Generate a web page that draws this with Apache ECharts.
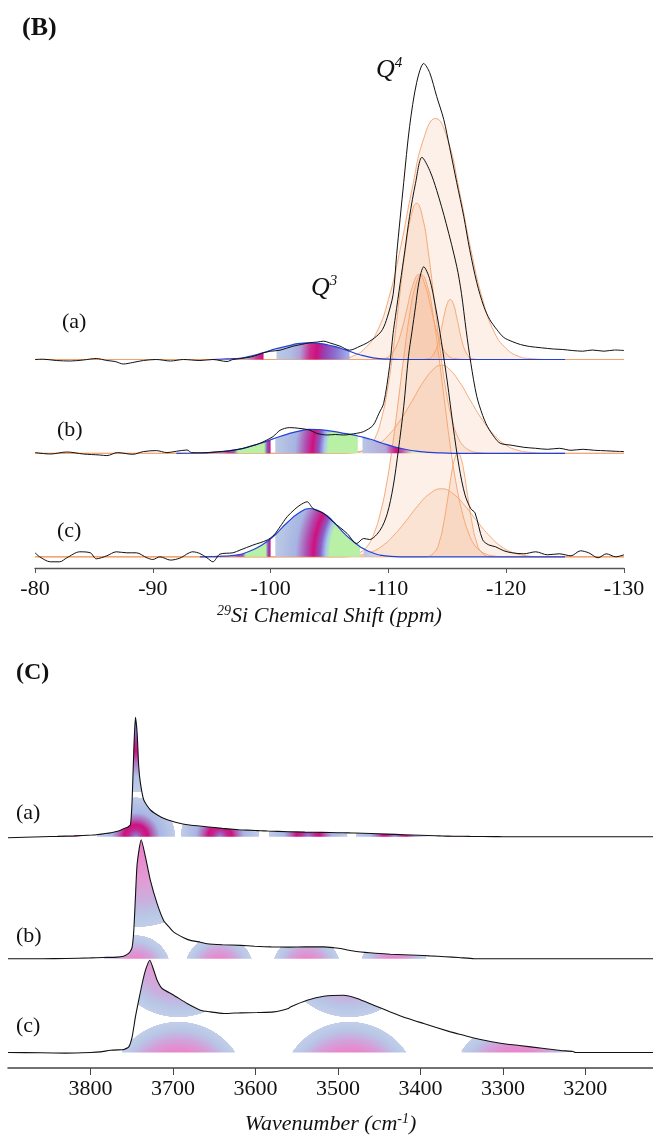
<!DOCTYPE html>
<html>
<head>
<meta charset="utf-8">
<script src="https://cdn.jsdelivr.net/npm/echarts@6/dist/echarts.min.js"></script>
<style>
  html, body { margin: 0; padding: 0; background: #fff; }
  #chart { width: 653px; height: 1137px; }
</style>
</head>
<body>
<div id="chart"></div>
<script>
// ---------- panel B : 29Si NMR ----------
var ppmTicks = [-80, -90, -100, -110, -120, -130];
var nmrLabels = ['(a)', '(b)', '(c)'];

// experimental spectra [ppm, intensity]
var nmrExpA = [[-80,0],[-80.7,0.3],[-81.8,-1],[-83,-1.5],[-84.1,-0.5],[-85.2,1],[-86.1,-1],[-86.8,-2],[-87.5,-4.5],[-88.3,-3],[-89.2,-1],[-90.3,0],[-91.5,-1.5],[-92.6,0],[-94,-1],[-95.1,0],[-96.3,-2],[-96.8,0],[-97.5,1],[-98.3,2.5],[-99,5],[-99.4,6.7],[-100,8.3],[-100.8,9.3],[-101.9,13.3],[-102.6,15],[-103.3,16.7],[-104,17.5],[-104.5,18.3],[-105,16.7],[-105.9,13.3],[-106.7,9.3],[-107.6,13.3],[-108.2,16.7],[-109,23.3],[-109.5,30],[-109.9,42],[-110.4,65],[-110.7,105],[-111.3,177],[-111.8,233],[-112.4,277],[-113,296],[-113.5,287],[-114.1,263],[-114.7,240],[-115.2,212],[-115.8,177],[-116.4,143],[-116.9,110],[-117.5,77],[-118.1,53],[-118.6,40],[-119.2,30],[-119.8,22],[-120.5,18],[-121.2,15],[-122,13],[-123,11.7],[-124,10.5],[-124.8,10],[-125.6,9],[-126.5,8.3],[-127.3,9.5],[-128.3,8.3],[-129.2,9.5],[-130,9]];
var nmrExpB = [[-80,0.7],[-81.3,-0.7],[-82.7,1.3],[-84.1,-0.7],[-85.5,-1.7],[-86.1,-2.3],[-87,0.7],[-88.3,-1],[-89.2,1.7],[-90.3,2.7],[-91.2,0.7],[-92,2],[-92.9,3.3],[-93.3,0.7],[-94.1,0.5],[-95.5,1.5],[-96.5,2.5],[-97.5,4.5],[-98.3,7],[-99.1,10],[-100.2,16.7],[-100.8,23],[-101.6,25.7],[-102.4,25],[-103.3,23.3],[-103.9,20],[-104.8,18.3],[-105.5,18.8],[-106.2,18.3],[-107.3,20],[-107.9,21.7],[-108.7,28],[-109.2,40],[-109.6,50],[-110.1,87],[-110.4,120],[-110.6,137],[-111,170],[-111.4,203],[-111.8,237],[-112.3,270],[-112.85,296],[-113.5,283],[-114.1,263],[-114.9,230],[-115.8,187],[-116.2,160],[-116.6,123],[-117,90],[-117.5,57],[-118,38],[-118.4,27],[-119,16],[-119.5,10],[-120.5,8],[-121.5,6],[-122.5,5],[-123.5,4],[-124.5,5],[-125.5,3],[-126.5,4],[-127.5,3],[-128.5,2.5],[-129.3,2],[-130,1.7]];
var nmrExpC = [[-80,4],[-80.4,0],[-81.3,-5],[-82.1,-5],[-82.7,-1],[-83.8,5],[-84.7,4],[-85.2,-2],[-86.1,1],[-86.9,5],[-87.8,4],[-88.6,4],[-89.5,-1],[-90,-2.7],[-90.6,0],[-91.5,-3.3],[-92.3,-1.3],[-93.4,5],[-94,3.3],[-94.6,-1],[-95.1,-5],[-95.7,2.7],[-96.8,4],[-97.4,6.7],[-98.5,11.7],[-99.7,16.7],[-100.3,22],[-100.8,30],[-101.4,40],[-102,47],[-102.5,51.7],[-103.1,55],[-103.6,48.3],[-104.5,43.3],[-105.3,35],[-106.5,23.3],[-107.3,13.3],[-107.9,18.3],[-108.4,17.3],[-109.3,26.7],[-109.9,43],[-110.4,70],[-110.85,107],[-111.3,150],[-111.7,200],[-112,225],[-112.3,250],[-112.6,275],[-113,290],[-113.5,278],[-114,250],[-114.5,215],[-115,175],[-115.5,130],[-116,90],[-116.5,62],[-117,48],[-117.35,44],[-118,17],[-118.5,12],[-119.1,10],[-119.8,6],[-120.5,4],[-121.5,3],[-122.5,5],[-123.5,2],[-124.5,3],[-125.5,1],[-126.3,6],[-127,4],[-127.8,-1],[-128.5,3],[-129.3,0],[-130,2]];

// fitted Q4 components
var q4A1 = [[-80,0],[-104,0],[-106,1],[-107,3.4],[-108,11],[-109,27],[-110,60],[-111,110],[-112,170],[-113,221],[-114,241],[-115,221],[-116,170],[-117,110],[-118,60],[-119,27],[-120,11],[-121,3.4],[-122,1],[-124,0],[-130,0]];
var q4A2 = [[-80,0],[-108,0],[-109.6,1],[-110.1,3.7],[-110.6,11.5],[-111.1,28],[-111.6,52],[-112.1,75],[-112.6,85],[-113.1,75],[-113.6,52],[-114.1,28],[-114.6,11.5],[-115.1,3.7],[-115.6,1],[-117,0],[-130,0]];
var q4A3 = [[-80,0],[-112.5,0],[-113.5,1],[-113.75,4],[-114,9],[-114.25,18],[-114.5,31],[-114.75,45],[-115,56],[-115.25,60],[-115.5,56],[-115.75,45],[-116,31],[-116.25,18],[-116.5,9],[-116.75,4],[-117,1],[-118,0],[-130,0]];
var q4B1 = [[-80,0],[-106,0],[-107.4,1],[-107.9,3],[-108.4,7],[-108.9,16],[-109.4,34],[-109.9,62],[-110.4,103],[-110.9,152],[-111.4,200],[-111.9,236],[-112.4,250],[-112.9,236],[-113.4,200],[-113.9,152],[-114.4,103],[-114.9,62],[-115.4,34],[-115.9,16],[-116.4,7],[-116.9,3],[-117.4,1],[-119,0],[-130,0]];
var q4B2 = [[-80,0],[-106,0],[-107,1],[-108,3],[-109,8],[-110,18],[-111,33],[-112,52],[-113,72],[-114,86],[-114.5,88],[-115,86],[-116,72],[-117,52],[-118,33],[-119,18],[-120,8],[-121,3],[-122,1],[-123.5,0],[-130,0]];
var q4C1 = [[-80,0],[-106,0],[-106.8,1],[-107.3,2.6],[-107.8,6],[-108.3,12],[-108.8,24],[-109.3,43],[-109.8,70],[-110.3,107],[-110.8,152],[-111.3,199],[-111.8,242],[-112.3,271],[-112.8,282],[-113.3,271],[-113.8,242],[-114.3,199],[-114.8,152],[-115.3,107],[-115.8,70],[-116.3,43],[-116.8,24],[-117.3,12],[-117.8,6],[-118.3,2.6],[-118.8,1],[-120,0],[-130,0]];
var q4C2 = [[-80,0],[-106,0],[-107.5,1.5],[-108.5,4.5],[-109.5,11],[-110.5,22],[-111.5,36],[-112.5,51],[-113.5,63],[-114.5,68],[-115.5,63],[-116.5,51],[-117.5,36],[-118.5,22],[-119.5,11],[-120.5,4.5],[-121.5,1.5],[-123,0],[-130,0]];
var q4C3 = [[-80,0],[-113,0],[-113.9,4.6],[-114.4,18],[-114.65,31],[-114.9,48],[-115.15,67],[-115.4,86],[-115.65,99],[-115.9,104],[-116.15,99],[-116.4,86],[-116.65,67],[-116.9,48],[-117.15,31],[-117.4,18],[-117.9,4.6],[-118.8,0],[-130,0]];

// Q3 envelopes and the ranges of their coloured pieces
var q3EnvA = [[-95,0],[-96,0.5],[-96.5,0.7],[-97.5,1.5],[-98.5,4],[-99.4,7],[-100.5,10.8],[-101.4,13.3],[-102.3,15.8],[-103.3,16.7],[-104.3,15.8],[-105.3,13.3],[-106,11],[-106.7,8.3],[-107.5,5],[-108.7,1.7],[-110,0.3],[-111,0],[-125,0]];
var q3EnvB = [[-92,0],[-94,0.3],[-95.4,1.2],[-96.5,2.5],[-97.1,3.6],[-98,6],[-99,9.5],[-100,13.5],[-100.4,15.3],[-101.5,19.5],[-102.5,22.5],[-103.3,24],[-104,23.8],[-105,22.5],[-106,20.5],[-107,18.5],[-107.4,17.3],[-107.8,16.2],[-108.5,14],[-109.5,10],[-110.5,6.5],[-111.5,3.8],[-112.5,2],[-113.5,0.9],[-114.5,0.4],[-116,0],[-125,0]];
var q3EnvC = [[-94,0],[-95,0.2],[-96,0.6],[-96.5,1],[-97.2,2],[-97.7,3.3],[-98.5,7],[-99.3,12],[-100,18],[-100.4,22],[-100.8,27],[-101.4,34],[-102.3,43],[-103.3,48.3],[-104,46.5],[-104.8,41],[-105.5,33],[-106.2,24],[-106.9,16.5],[-107.6,10],[-107.9,8],[-108.3,5.5],[-109,2.5],[-109.3,1.7],[-110,0.6],[-111,0],[-125,0]];
var q3PiecesA = [[-96, -99.4], [-100.5, -106.7]];
var q3PiecesB = [[-95.4, -100], [-100.4, -107.4], [-107.8, -113.5]];
var q3PiecesC = [[-96.5, -100], [-100.4, -107.6], [-107.9, -109.3]];

// ---------- panel C : IR, OH stretching ----------
var wnTicks = [3800, 3700, 3600, 3500, 3400, 3300, 3200];
var irLabels = ['(a)', '(b)', '(c)'];
var irA = [[3900,-1],[3880,-0.5],[3858,0],[3840,0.3],[3820,0.8],[3798,1.7],[3793,2],[3775,4],[3765,6],[3759,8.3],[3755,9.5],[3751.5,12],[3749.5,36.7],[3747.5,86],[3745.5,119.4],[3743.4,103],[3741.5,70],[3739.4,53.3],[3735.4,36.7],[3727.3,26.7],[3715.2,20],[3705,16.5],[3697,14.5],[3692,13.5],[3680,11.7],[3660,10],[3640,8.3],[3620,7],[3600,6.2],[3594,6],[3585,5.7],[3560,5],[3540,4.6],[3520,4.3],[3500,4],[3487,3.8],[3480,3.7],[3460,3.2],[3440,2.6],[3420,2],[3400,1.4],[3382,0.9],[3373,0.7],[3360,0.5],[3340,0.3],[3310,0.1],[3300,0],[3118,0]];
var irB = [[3900,0],[3858,0],[3830,0.2],[3800,0.8],[3785,1.2],[3767.6,1.6],[3760,2.5],[3755.5,4.3],[3752,7],[3749.5,11.6],[3747.5,28],[3745.5,61.6],[3743.4,95],[3738.5,119],[3733.3,101.6],[3727.3,78],[3719.2,55],[3711.2,38],[3704,31],[3699,26.6],[3687,21],[3678.8,18.3],[3666.7,16.5],[3658.6,15],[3640,14],[3618,13.3],[3601,12.5],[3581,11.8],[3560,11.6],[3540,11.8],[3517,11.8],[3505,11],[3495,10],[3490,9],[3475,7],[3454.5,5.5],[3436.4,4.5],[3404,3.5],[3389,2.8],[3370,2],[3353.6,1.2],[3335,0],[3118,0]];
var irC = [[3900,0],[3860,-0.3],[3830,-0.6],[3800,0],[3787.9,0.6],[3775.8,2.3],[3762,2.8],[3759.6,3],[3753.6,5.6],[3749.5,15.6],[3745.5,35.6],[3741.5,52.3],[3737.3,69],[3733.3,82.3],[3728.1,92.3],[3723.3,82.3],[3719.2,72.3],[3713.1,64],[3699,57.3],[3682.8,49],[3666.7,42.3],[3654.5,40.6],[3638.4,39],[3625,39.5],[3618.2,39.6],[3597.9,40],[3577.8,40.6],[3560,44],[3557.6,45.6],[3537.3,52.3],[3517.2,56.3],[3493,57.3],[3476.7,54],[3456.6,47.3],[3436.4,40.6],[3415,34],[3396,29],[3363.6,20.6],[3350,17.7],[3330,13.5],[3303,9.3],[3280,7],[3252.5,4.3],[3230,2],[3215,1],[3212,0],[3118,0]];
var irPiecesA = [[3858,3798],[3793,3697],[3692,3594],[3585,3487],[3480,3382],[3373,3310]];
var irPiecesB = [[3785,3704],[3687,3601],[3581,3495],[3475,3389]];
var irPiecesC = [[3762,3625],[3557.6,3415],[3350,3215]];

// ---------- layout / style ----------
var serif = '"Liberation Serif", "Times New Roman", serif';
var nmrBase = [208.5, 114.7, 11.2];      // trace baselines (px above axis)
var irBase = [231.3, 109.3, 15.5];
var q3Kinds = [['leftA', 'mainA'], ['left', 'main', 'rightB'], ['left', 'main', 'rightC']];
var domeR = [40, 35, 70], domeDepth = [0, 11, 38];
var bowlR = [88, 90, 72], bowlTop = [131, 120, 106];

function lift(points, off) {
    return points.map(function (p) { return [p[0], p[1] + off]; });
}
function slice(points, a, b) {
    var lo = Math.min(a, b), hi = Math.max(a, b);
    return points.filter(function (p) { return p[0] >= lo && p[0] <= hi; });
}

var chart = echarts.init(document.getElementById('chart'));
var series = [];
var jobs = [];

var nmrExp = [nmrExpA, nmrExpB, nmrExpC];
var nmrFits = [[q4A1, q4A2, q4A3], [q4B1, q4B2], [q4C1, q4C2, q4C3]];
var q3Env = [q3EnvA, q3EnvB, q3EnvC];
var q3Pieces = [q3PiecesA, q3PiecesB, q3PiecesC];

for (var t = 0; t < 3; t++) {
    var off = nmrBase[t];
    nmrFits[t].forEach(function (f) {
        series.push({
            type: 'line', xAxisIndex: 0, yAxisIndex: 0, data: lift(f, off),
            smooth: 0.5, symbol: 'none', silent: true, z: 2,
            lineStyle: { color: '#f4a06b', width: 0.9 },
            areaStyle: { color: 'rgba(240,150,95,0.2)', origin: off }
        });
    });
    q3Pieces[t].forEach(function (pc, k) {
        var id = 'q3-' + t + '-' + k;
        series.push({
            id: id, type: 'line', xAxisIndex: 0, yAxisIndex: 0,
            data: lift(slice(q3Env[t], pc[0], pc[1]), off),
            smooth: 0.5, symbol: 'none', silent: true, z: 3,
            lineStyle: { width: 0, opacity: 0 },
            areaStyle: { color: '#bcc8e6', origin: off, opacity: 1 }
        });
        jobs.push({ id: id, grid: 0, a: pc[0], b: pc[1], off: off, kind: q3Kinds[t][k] });
    });
    series.push({
        type: 'line', xAxisIndex: 0, yAxisIndex: 0, data: lift(q3Env[t], off),
        smooth: 0.5, symbol: 'none', silent: true, z: 4,
        lineStyle: { color: '#2142dc', width: 1.2 }
    });
    series.push({
        type: 'line', xAxisIndex: 0, yAxisIndex: 0, data: lift(nmrExp[t], off),
        smooth: 0.3, symbol: 'none', silent: true, z: 5,
        lineStyle: { color: '#111', width: 1 }
    });
}

var irExp = [irA, irB, irC];
var irPieces = [irPiecesA, irPiecesB, irPiecesC];
for (var u = 0; u < 3; u++) {
    var offC = irBase[u];
    irPieces[u].forEach(function (pc, k) {
        ['dome', 'bowl'].forEach(function (part) {
            var id = 'ir-' + u + '-' + k + '-' + part;
            series.push({
                id: id, type: 'line', xAxisIndex: 1, yAxisIndex: 1,
                data: lift(slice(irExp[u], pc[0], pc[1]), offC),
                smooth: 0.2, symbol: 'none', silent: true, z: 2,
                lineStyle: { width: 0, opacity: 0 },
                areaStyle: { color: 'rgba(0,0,0,0)', origin: offC, opacity: 1 }
            });
            jobs.push({ id: id, grid: 1, a: pc[0], b: pc[1], off: offC, kind: part, trace: u });
        });
    });
    series.push({
        type: 'line', xAxisIndex: 1, yAxisIndex: 1, data: lift(irExp[u], offC),
        smooth: 0.2, symbol: 'none', silent: true, z: 5,
        lineStyle: { color: '#111', width: 1.1 }
    });
}

function txt(text, left, top, font) {
    return { type: 'text', left: left, top: top, silent: true,
             style: { text: text, font: font, fill: '#111' } };
}
var qRich = {
    q: { fontSize: 26, fontStyle: 'italic', fontFamily: serif, lineHeight: 28 },
    s: { fontSize: 15, fontStyle: 'italic', fontFamily: serif, verticalAlign: 'top', lineHeight: 20 }
};
var graphics = [
    txt('(B)', 22, 15, 'bold 26px ' + serif),
    txt('(C)', 16, 661, 'bold 24px ' + serif),
    { type: 'text', left: 376, top: 56, silent: true, style: { text: '{q|Q}{s|4}', fill: '#111', rich: qRich } },
    { type: 'text', left: 311, top: 274, silent: true, style: { text: '{q|Q}{s|3}', fill: '#111', rich: qRich } }
];
var nmrLabelPos = [[62, 311], [57, 419], [57, 520]];
var irLabelPos = [[16, 802], [16, 925], [16, 1015]];
nmrLabels.forEach(function (s, i) { graphics.push(txt(s, nmrLabelPos[i][0], nmrLabelPos[i][1], '22px ' + serif)); });
irLabels.forEach(function (s, i) { graphics.push(txt(s, irLabelPos[i][0], irLabelPos[i][1], '22px ' + serif)); });

var nameRich = {
    s: { fontSize: 14, fontStyle: 'italic', fontFamily: serif, verticalAlign: 'top', lineHeight: 16 },
    i: { fontSize: 22, fontStyle: 'italic', fontFamily: serif, lineHeight: 24 }
};
var option = {
    animation: false,
    backgroundColor: '#fff',
    grid: [
        { left: 35, right: 29, top: 40, height: 528 },
        { left: 8, right: 0, top: 700, height: 368 }
    ],
    xAxis: [
        {
            gridIndex: 0, type: 'value', min: -130, max: -80, interval: 10, inverse: true,
            axisLine: { lineStyle: { color: '#555', width: 1.3 } },
            axisTick: { length: 5, lineStyle: { color: '#555' } },
            axisLabel: { fontSize: 22, fontFamily: serif, color: '#111', margin: 10 },
            splitLine: { show: false },
            name: '{s|29}{i|Si Chemical Shift (ppm)}', nameLocation: 'middle', nameGap: 36,
            nameTextStyle: { color: '#111', rich: nameRich }
        },
        {
            gridIndex: 1, type: 'value', min: 3118, max: 3900, inverse: true,
            axisLine: { lineStyle: { color: '#444', width: 1.5 } },
            axisTick: { length: 7, customValues: wnTicks, lineStyle: { color: '#444' } },
            axisLabel: {
                fontSize: 22, fontFamily: serif, color: '#111', margin: 10, customValues: wnTicks,
                formatter: function (v) { return String(v); }
            },
            splitLine: { show: false },
            name: '{i|Wavenumber (cm}{s|-1}{i|)}', nameLocation: 'middle', nameGap: 44,
            nameTextStyle: { color: '#111', rich: nameRich }
        }
    ],
    yAxis: [
        { gridIndex: 0, type: 'value', min: 0, max: 528, show: false },
        { gridIndex: 1, type: 'value', min: 0, max: 368, show: false }
    ],
    graphic: graphics,
    series: series
};
chart.setOption(option);

// ---------- gradients (need pixel positions of the pieces) ----------
var T = 'rgba(255,255,255,0)';
function stops(list) { return list.map(function (s) { return { offset: s[0], color: s[1] }; }); }
var q3Stops = {
    leftA: stops([[0, 'rgba(196,206,234,0.7)'], [0.55, '#b4bce2'], [0.82, '#c04098'], [1, '#d0107e']]),
    mainA: stops([[0, '#b0bcec'], [0.4, '#a0a8ea'], [0.5, '#8a70d0'], [0.6, '#9a3cb0'], [0.66, '#d0107e'], [0.72, '#c83090'], [0.8, '#b0a0d8'], [0.88, '#b0bee4'], [1, '#bcc8e6']]),
    left: stops([[0, '#c8d0ea'], [0.22, '#c03c98'], [0.32, '#8a5cc4'], [0.4, '#b8f0a6'], [0.88, '#b8f0a6'], [0.94, '#8c54b8'], [1, '#cc1482']]),
    main: stops([[0, '#b8f0a6'], [0.6, '#b8f0a6'], [0.63, '#a4c6f2'], [0.67, '#8a5cc4'], [0.72, '#d0107e'], [0.77, '#b04cb0'], [0.85, '#a6b4e2'], [1, '#bccae6']]),
    rightB: stops([[0, '#b8c6e6'], [0.35, '#b4a8d8'], [0.5, '#d0107e'], [0.6, '#c060a8'], [0.75, '#e0f0c0'], [1, 'rgba(230,248,205,0.4)']]),
    rightC: stops([[0, '#b8c4e4'], [1, 'rgba(200,210,235,0.6)']])
};
var pinkBowl = stops([[0, '#ec7cc8'], [0.45, '#e49ad4'], [0.7, '#c8b0de'], [0.85, '#b8c6e6'], [0.98, '#c2cee9'], [0.985, T], [1, T]]);
var domeStops = [
    stops([[0, '#8d86d8'], [0.18, '#c02890'], [0.3, '#d0107e'], [0.42, '#b060b4'], [0.6, '#a8b6e4'], [0.98, '#c0cce8'], [0.985, T], [1, T]]),
    null, null
];
var bowlStops = [
    stops([[0, '#8a82d6'], [0.3, '#8c7cd2'], [0.42, '#c02890'], [0.52, '#d0107e'], [0.64, '#b070c0'], [0.8, '#b4c2e6'], [0.98, '#c0cce8'], [0.985, T], [1, T]]),
    pinkBowl, pinkBowl
];
[1, 2].forEach(function (i) {
    var v = domeDepth[i] / domeR[i];
    domeStops[i] = stops([[0, '#ec7cc8'], [v + 0.04, '#e888cc'], [v + 0.4 * (1 - v), '#d0a4dc'], [v + 0.7 * (1 - v), '#b8c6e6'], [0.98, '#c2cee9'], [0.985, T], [1, T]]);
});

var updates = jobs.map(function (j) {
    var p0 = chart.convertToPixel({ gridIndex: j.grid }, [j.a, j.off]);
    var p1 = chart.convertToPixel({ gridIndex: j.grid }, [j.b, j.off]);
    var w = Math.abs(p1[0] - p0[0]);
    var c;
    if (j.grid === 0) {
        if (j.kind === 'mainA' || j.kind === 'main') {
            c = { type: 'radial', x: p1[0] + 0.6 * w, y: p1[1], r: 1.6 * w, global: true, colorStops: q3Stops[j.kind] };
        } else {
            c = { type: 'linear', x: p0[0], y: 0, x2: p1[0], y2: 0, global: true, colorStops: q3Stops[j.kind] };
        }
    } else {
        var pm = chart.convertToPixel({ gridIndex: 1 }, [(j.a + j.b) / 2, j.off]);
        if (j.kind === 'dome') {
            c = { type: 'radial', x: pm[0], y: pm[1] + domeDepth[j.trace], r: domeR[j.trace], global: true, colorStops: domeStops[j.trace] };
        } else {
            c = { type: 'radial', x: pm[0], y: pm[1] - bowlTop[j.trace], r: bowlR[j.trace], global: true, colorStops: bowlStops[j.trace] };
        }
    }
    return { id: j.id, areaStyle: { color: c } };
});
chart.setOption({ series: updates });
window.addEventListener('resize', function () { chart.resize(); });
</script>
</body>
</html>
